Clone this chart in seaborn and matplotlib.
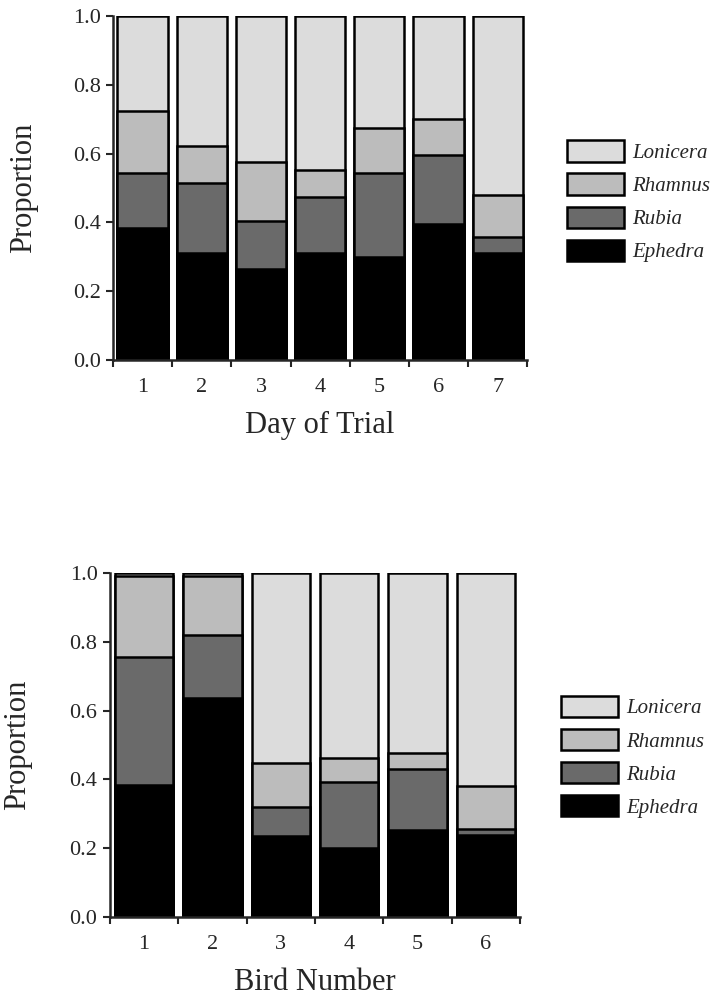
import matplotlib
matplotlib.use("Agg")
import matplotlib.pyplot as plt
from matplotlib.patches import Patch
import seaborn as sns
import numpy as np
import pandas as pd

# ---- data ----
species = ["Lonicera", "Rhamnus", "Rubia", "Ephedra"]

days = ["1", "2", "3", "4", "5", "6", "7"]
day_ephedra  = [0.385, 0.310, 0.265, 0.310, 0.300, 0.395, 0.310]
day_rubia    = [0.158, 0.205, 0.140, 0.165, 0.243, 0.200, 0.048]
day_rhamnus  = [0.182, 0.108, 0.170, 0.077, 0.132, 0.105, 0.122]
day_lonicera = [0.275, 0.377, 0.425, 0.448, 0.325, 0.300, 0.520]

birds = ["1", "2", "3", "4", "5", "6"]
bird_ephedra  = [0.384, 0.636, 0.235, 0.199, 0.254, 0.238]
bird_rubia    = [0.373, 0.184, 0.084, 0.192, 0.175, 0.019]
bird_rhamnus  = [0.233, 0.170, 0.130, 0.070, 0.049, 0.124]
bird_lonicera = [0.010, 0.010, 0.551, 0.539, 0.522, 0.619]

colors = {"Lonicera": "#dcdcdc", "Rhamnus": "#bcbcbc",
          "Rubia": "#6a6a6a", "Ephedra": "#000000"}

sns.set_style("ticks")
plt.rcParams["font.family"] = ["Liberation Serif", "DejaVu Serif"]

fig = plt.figure(figsize=(7.18, 9.97), dpi=100)
ax1 = fig.add_axes([0.1574, 0.6389, 0.577, 0.345])
ax2 = fig.add_axes([0.1532, 0.0803, 0.571, 0.345])


def draw(ax, cats, layers, xlabel, ylabelpad):
    order = ["Ephedra", "Rubia", "Rhamnus", "Lonicera"]
    cum = np.cumsum([layers[s] for s in order], axis=0)
    # draw from top-most cumulative down so lower layers overlay
    for i in reversed(range(len(order))):
        s = order[i]
        df = pd.DataFrame({"cat": cats, "val": cum[i]})
        sns.barplot(data=df, x="cat", y="val", color=colors[s], saturation=1,
                    width=0.85, edgecolor="black", linewidth=1.8, ax=ax,
                    order=cats)
    n = len(cats)
    ax.set_xlim(-0.5, n - 0.5)
    ax.set_ylim(0, 1.0)
    ax.set_yticks([0.0, 0.2, 0.4, 0.6, 0.8, 1.0])
    ax.set_yticklabels(["0.0", "0.2", "0.4", "0.6", "0.8", "1.0"], fontsize=16)
    ax.set_xticks(np.arange(n))
    ax.set_xticklabels(cats, fontsize=16)
    ax.tick_params(axis="x", which="major", length=0, pad=13)
    ax.set_xticks(np.arange(-0.5, n, 1.0), minor=True)
    ax.tick_params(axis="x", which="minor", length=5, width=1.5, direction="out")
    ax.tick_params(axis="y", length=5, width=1.5, direction="out", pad=4)
    for sp in ["top", "right"]:
        ax.spines[sp].set_visible(False)
    for sp in ["left", "bottom"]:
        ax.spines[sp].set_linewidth(1.8)
    ax.set_xlabel(xlabel, fontsize=22, labelpad=10)
    ax.set_ylabel("Proportion", fontsize=22, labelpad=ylabelpad)


draw(ax1, days, {"Ephedra": day_ephedra, "Rubia": day_rubia,
                 "Rhamnus": day_rhamnus, "Lonicera": day_lonicera}, "Day of Trial", 25)
draw(ax2, birds, {"Ephedra": bird_ephedra, "Rubia": bird_rubia,
                  "Rhamnus": bird_rhamnus, "Lonicera": bird_lonicera}, "Bird Number", 27)

for ax, x, y in [(ax1, 0.789, 0.798), (ax2, 0.781, 0.241)]:
    handles = [Patch(facecolor=colors[s], edgecolor="black", linewidth=1.8, label=s)
               for s in species]
    fig.legend(handles=handles, loc="center left", bbox_to_anchor=(x, y),
               frameon=False, prop={"family": "Liberation Serif", "style": "italic", "size": 15},
               handlelength=2.75, handleheight=1.2, handletextpad=0.4, labelspacing=0.5,
               borderaxespad=0, borderpad=0)

fig.savefig("out.png", dpi=100)
